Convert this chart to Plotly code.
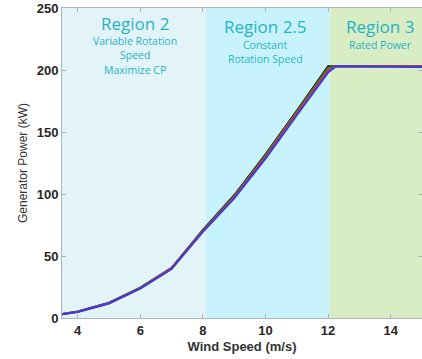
import plotly.graph_objects as go

# Wind speed (m/s) and generator power (kW) for four simulated runs
wind = [3.5, 4, 5, 6, 7, 8, 9, 10, 11, 12, 12.25, 15]
power_black = [3.3, 5.2, 12.3, 24.5, 40.5, 71.0, 99.0, 132.0, 167.0, 203.0, 203.0, 203.0]
power_green = [3.2, 5.1, 12.1, 24.2, 40.2, 70.5, 98.0, 131.0, 166.0, 201.5, 203.0, 203.0]
power_red = [3.1, 5.0, 11.9, 24.0, 40.0, 70.0, 97.5, 130.0, 165.0, 200.0, 203.0, 203.0]
power_blue = [3.0, 4.9, 11.7, 23.7, 39.5, 69.5, 96.5, 128.5, 163.5, 198.0, 203.0, 202.5]

# Operating regions
region_names = ["Region 2", "Region 2.5", "Region 3"]
region_starts = [3.5, 8.1, 12.05]
region_ends = [8.1, 12.05, 15.0]
region_fills = ["#e3f4f8", "#c9f3fc", "#d9edc5"]
region_notes = [["Variable Rotation", "Speed", "Maximize CP"],
                ["Constant", "Rotation Speed"],
                ["Rated Power"]]
label_x = [5.83, 9.99, 13.66]
title_y = [237.5, 235.0, 235.0]

x_ticks = [4, 6, 8, 10, 12, 14]
y_ticks = [0, 50, 100, 150, 200, 250]

fig = go.Figure()

series = [(power_black, "#1a1a1a"), (power_green, "#1f9a2a"),
          (power_red, "#e0302a"), (power_blue, "#3a3ae6")]
for vals, col in series:
    fig.add_trace(go.Scatter(x=wind, y=vals, mode="lines",
                             line=dict(color=col, width=2), showlegend=False))

text_col = "#1fb3c6"
for name, x0, x1, fill, notes, lx, ty in zip(region_names, region_starts, region_ends,
                                             region_fills, region_notes, label_x, title_y):
    fig.add_shape(type="rect", xref="x", yref="y", x0=x0, x1=x1, y0=0, y1=250,
                  fillcolor=fill, line=dict(width=0), layer="below")
    fig.add_annotation(x=lx, y=ty, xref="x", yref="y", text=name,
                       showarrow=False, yanchor="middle",
                       font=dict(family="Open Sans", size=17, color=text_col))
    for i, line in enumerate(notes):
        fig.add_annotation(x=lx, y=ty - 14.5 - i * 11.3, xref="x", yref="y", text=line,
                           showarrow=False, yanchor="middle",
                           font=dict(family="Open Sans", size=10.5, color=text_col))

axis_common = dict(showgrid=False, zeroline=False, showline=True,
                   linecolor="#a9b4bb", linewidth=1, mirror="ticks",
                   ticks="inside", ticklen=4, tickcolor="#a9b4bb")

fig.update_xaxes(range=[3.5, 15], tickvals=x_ticks, **axis_common,
                 tickfont=dict(family="Liberation Sans", size=13, color="#262626", weight="bold"),
                 title=dict(text="Wind Speed (m/s)", standoff=5,
                            font=dict(family="Liberation Sans", size=13, color="#333333", weight="bold")))
fig.update_yaxes(range=[0, 250], tickvals=y_ticks, **axis_common,
                 tickfont=dict(family="Liberation Sans", size=13, color="#262626", weight="bold"),
                 title=dict(text="Generator Power (kW)", standoff=6,
                            font=dict(family="Liberation Sans", size=12, color="#333333")))

fig.update_layout(width=422, height=359, margin=dict(l=62, r=0, t=8, b=41),
                  paper_bgcolor="white", plot_bgcolor="white")

fig.write_html("out.html")
